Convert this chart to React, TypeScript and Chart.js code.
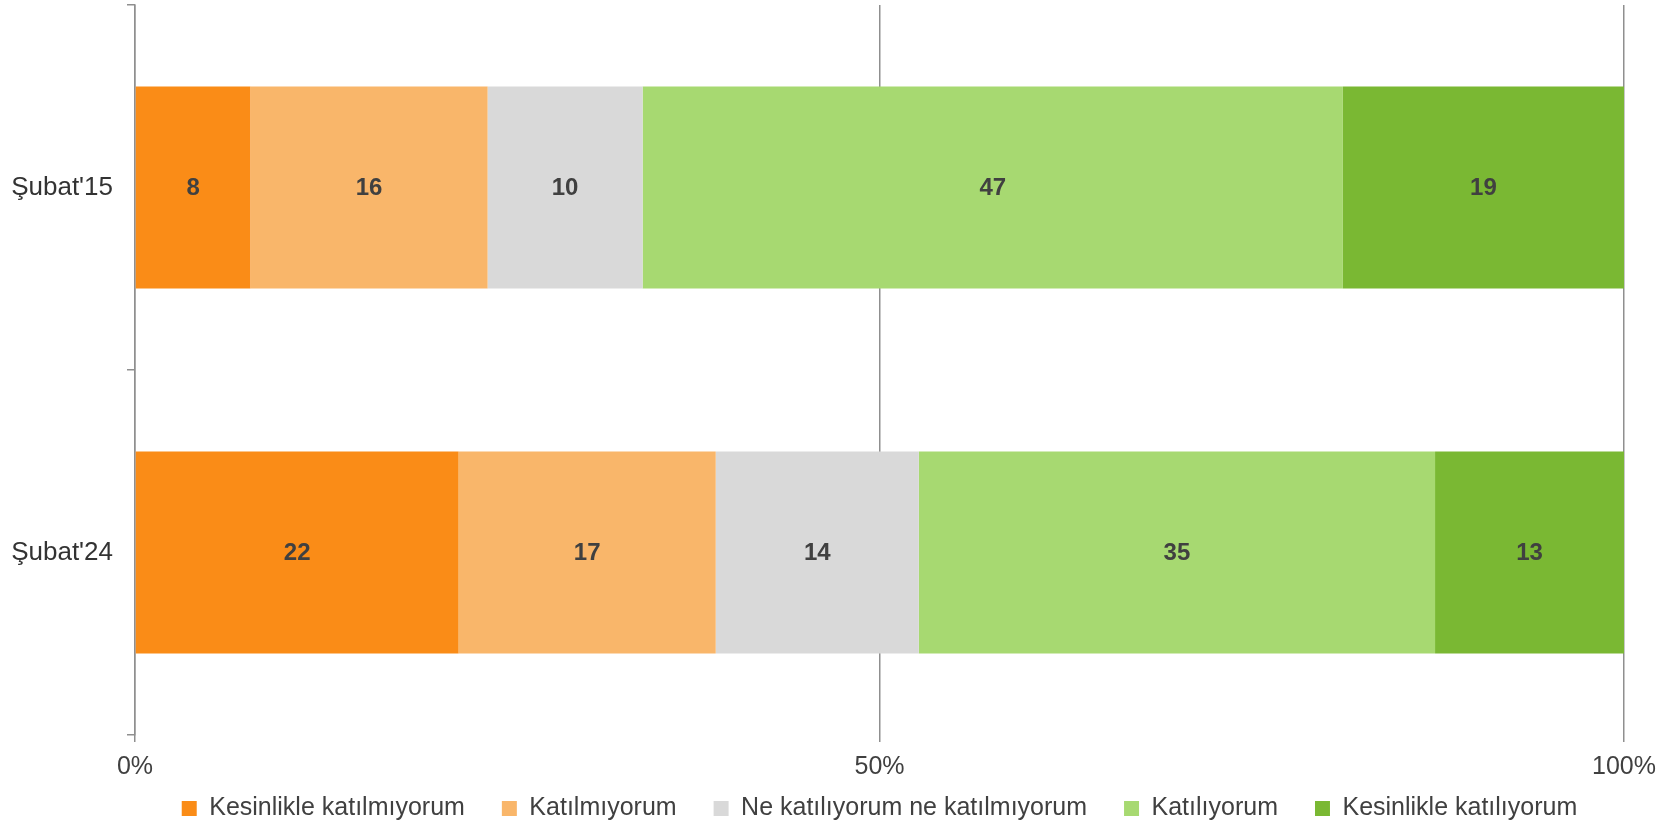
import React, { useEffect, useRef } from "react";
import { Chart, registerables } from "chart.js";

Chart.register(...registerables);

const categories = ["Şubat'15", "Şubat'24"];
const seriesNames = [
  "Kesinlikle katılmıyorum",
  "Katılmıyorum",
  "Ne katılıyorum ne katılmıyorum",
  "Katılıyorum",
  "Kesinlikle katılıyorum",
];
const kesinlikleKatilmiyorum = [7.75, 21.73];
const katilmiyorum = [15.93, 17.27];
const kararsiz = [10.41, 13.64];
const katiliyorum = [47.03, 34.67];
const kesinlikleKatiliyorum = [18.88, 12.69];
const xTicks = [0, 50, 100];

const seriesValues = [kesinlikleKatilmiyorum, katilmiyorum, kararsiz, katiliyorum, kesinlikleKatiliyorum];
const seriesColors = ["#FA8C17", "#F9B66A", "#D9D9D9", "#A7D971", "#7AB833"];

const FONT = "'Liberation Sans', Arial, sans-serif";

const dataLabelPlugin = {
  id: "dataLabels",
  afterDatasetsDraw(chart: any) {
    const ctx = chart.ctx;
    ctx.save();
    ctx.font = `bold 24px ${FONT}`;
    ctx.fillStyle = "#404040";
    ctx.textAlign = "center";
    ctx.textBaseline = "middle";
    chart.data.datasets.forEach((ds: any, i: number) => {
      const meta = chart.getDatasetMeta(i);
      meta.data.forEach((el: any, j: number) => {
        const v = ds.data[j];
        const cx = (el.x + el.base) / 2;
        ctx.fillText(String(Math.round(v)), cx, el.y + 1);
      });
    });
    ctx.restore();
  },
};

export default function App() {
  const ref = useRef<HTMLCanvasElement | null>(null);
  useEffect(() => {
    document.body.style.margin = "0";
    const chart: any = new Chart(ref.current as HTMLCanvasElement, {
      type: "bar",
      data: {
        labels: categories,
        datasets: seriesNames.map((name, i) => ({
          label: name,
          data: seriesValues[i],
          backgroundColor: seriesColors[i],
          borderWidth: 0,
          barPercentage: 0.553,
          categoryPercentage: 1,
        })),
      },
      options: {
        indexAxis: "y",
        animation: false,
        responsive: true,
        maintainAspectRatio: false,
        layout: { padding: { left: 0, right: 36, top: 5, bottom: 0 } },
        plugins: {
          legend: {
            position: "bottom",
            fullSize: false,
            maxHeight: 64,
            labels: {
              boxWidth: 15,
              boxHeight: 15,
              padding: 37,
              color: "#404040",
              font: { family: FONT, size: 25 },
            },
          },
          tooltip: { enabled: false },
        },
        scales: {
          x: {
            stacked: true,
            min: 0,
            max: 100,
            afterBuildTicks: (s: any) => {
              s.ticks = xTicks.map((v) => ({ value: v }));
            },
            afterFit: (s: any) => {
              s.height = 24;
              s.paddingLeft = 0;
              s.paddingRight = 0;
              s._computeLabelArea = () => undefined;
            },
            grid: {
              color: "#8f8f8f",
              lineWidth: 1.5,
              drawTicks: true,
              tickLength: 7,
            },
            border: { display: false },
            ticks: {
              color: "#404040",
              padding: 10,
              font: { family: FONT, size: 25 },
              callback: (v: any) => v + "%",
              maxRotation: 0,
            },
          },
          y: {
            stacked: true,
            afterFit: (s: any) => {
              s.width = 135;
              s.paddingTop = 0;
              s.paddingBottom = 0;
            },
            grid: {
              offset: true,
              drawOnChartArea: false,
              drawTicks: true,
              tickLength: 8,
              color: "#8f8f8f",
              lineWidth: 1.5,
            },
            border: { display: true, color: "#8f8f8f", width: 1.5 },
            ticks: {
              color: "#333333",
              padding: 14,
              font: { family: FONT, size: 26 },
            },
          },
        },
      },
      plugins: [dataLabelPlugin],
    } as any);
    return () => chart.destroy();
  }, []);
  return (
    <div style={{ width: 1660, height: 823, position: "relative" }}>
      <canvas ref={ref} />
    </div>
  );
}
